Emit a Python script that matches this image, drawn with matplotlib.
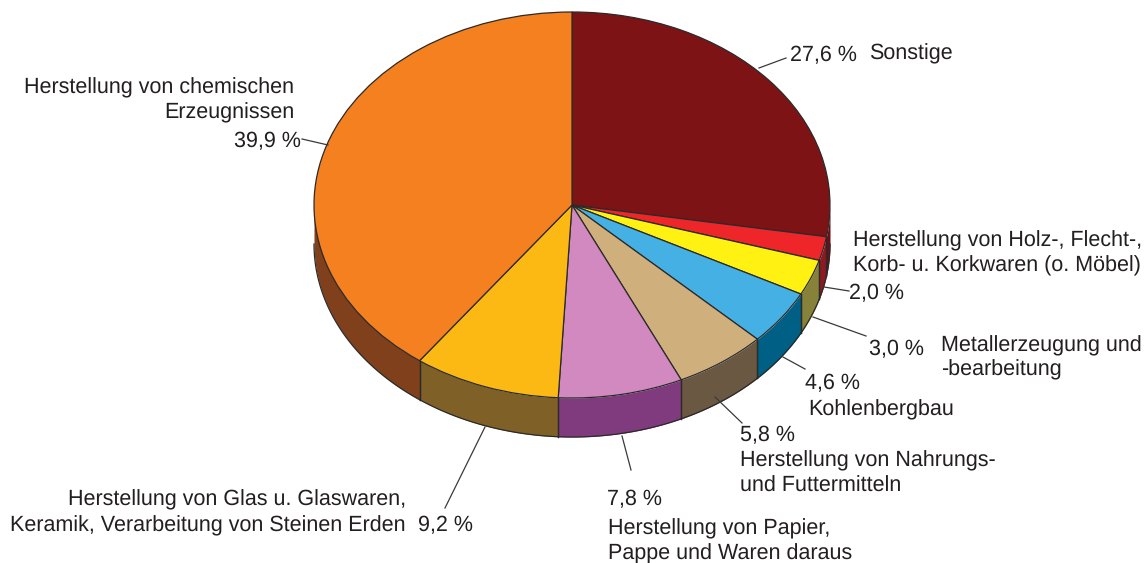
#!/usr/bin/python3
# -*- coding: utf-8 -*-

import matplotlib
matplotlib.use('Agg')
import matplotlib.pyplot as pl
import numpy as np

pl.rcParams['font.family'] = ['Liberation Sans', 'DejaVu Sans']
pl.rcParams['text.hinting'] = 'no_hinting'

categories = [
    ['Sonstige'],
    ['Herstellung von Holz-, Flecht-,', 'Korb- u. Korkwaren (o. Möbel)'],
    ['Metallerzeugung und', '-bearbeitung'],
    ['Kohlenbergbau'],
    ['Herstellung von Nahrungs-', 'und Futtermitteln'],
    ['Herstellung von Papier,', 'Pappe und Waren daraus'],
    ['Herstellung von Glas u. Glaswaren,', 'Keramik, Verarbeitung von Steinen Erden'],
    ['Herstellung von chemischen', 'Erzeugnissen'],
]
shares = [27.6, 2.0, 3.0, 4.6, 5.8, 7.8, 9.2, 39.9]

WIDTH, HEIGHT = 1148, 563
CX, CY, RX, RY = 572, 205, 258, 193
DEPTH = 39 / RY
EDGE = '#2b2a2a'
FONT_SIZE = 15.5

top_colors = ['#7d1315', '#ee2529', '#fff212', '#45b0e4', '#cfb07d', '#d189bf', '#fdb913', '#f58020']
side_colors = ['#6a1014', '#8c1a20', '#86823a', '#005f85', '#6b5842', '#7f3b7d', '#7f6027', '#80401b']

# per slice: value label (x, y, align), first name line (x, y, align), line distance
value_places = [
    (790, 56, 'left'), (849, 293, 'left'), (869, 349, 'left'), (805, 383, 'left'),
    (740, 435, 'left'), (607, 499, 'left'), (418, 526, 'left'), (301, 141, 'right'),
]
name_places = [
    (869, 54, 'left'), (853, 241, 'left'), (941, 346, 'left'), (808, 410, 'left'),
    (740, 461, 'left'), (608, 529, 'left'), (406, 500, 'right'), (294, 88, 'right'),
]
line_steps = [0, 25, 24, 0, 25, 25, 26, 25]

# leader lines, pixel coordinates
leaders = [
    ((759, 68), (786, 58)),
    ((824, 287), (849, 291)),
    ((813, 317), (866, 336)),
    ((783, 357), (805, 369)),
    ((715, 397), (742, 423)),
    ((622, 436), (631, 470)),
    ((485, 427), (445, 508)),
    ((302, 139), (328, 145)),
]

fig = pl.figure(figsize=(WIDTH / 100, HEIGHT / 100), dpi=100)
ax = fig.add_axes([(CX - RX) / WIDTH, 1 - (CY + RY) / HEIGHT, 2 * RX / WIDTH, 2 * RY / HEIGHT])

# side of the pie, only the part of each slice that faces the viewer
edges = 90 - 360 * np.cumsum([0] + shares) / np.sum(shares)
for start, stop, color in zip(edges[:-1], edges[1:], side_colors):
    low, high = max(stop, -180), min(start, 0)
    if low >= high:
        continue
    t = np.radians(np.linspace(low, high, 80))
    ax.fill_between(np.cos(t), np.sin(t) - DEPTH, np.sin(t), color=color, lw=0, clip_on=False, zorder=1)
    ax.plot(np.cos(t), np.sin(t) - DEPTH, color=EDGE, lw=0.9, clip_on=False, zorder=2)
    for a in (low, high):
        if a in (0, -180):
            continue
        r = np.radians(a)
        ax.plot([np.cos(r)] * 2, [np.sin(r) - DEPTH, np.sin(r)], color=EDGE, lw=0.9, clip_on=False, zorder=2)

wedges, _ = ax.pie(shares, colors=top_colors, startangle=90, counterclock=False, radius=1,
                   wedgeprops={'edgecolor': EDGE, 'linewidth': 0.9, 'clip_on': False})
for wedge in wedges:
    wedge.set_zorder(3)
ax.set_xlim(-1, 1)
ax.set_ylim(-1, 1)
ax.set_aspect('auto')
ax.axis('off')

overlay = fig.add_axes([0, 0, 1, 1])
overlay.set_xlim(0, WIDTH)
overlay.set_ylim(HEIGHT, 0)
overlay.axis('off')
overlay.patch.set_alpha(0)

for start, stop in leaders:
    overlay.plot([start[0], stop[0]], [start[1], stop[1]], color='#3a3a3a', lw=0.9)

for lines, share, value_place, name_place, step in zip(categories, shares, value_places, name_places, line_steps):
    x, y, align = value_place
    overlay.text(x, y, '{:.1f} %'.format(share).replace('.', ','), ha=align, va='center',
                 fontsize=FONT_SIZE, color='#231f20')
    x, y, align = name_place
    for i, line in enumerate(lines):
        overlay.text(x, y + i * step, line, ha=align, va='center', fontsize=FONT_SIZE, color='#231f20')

fig.savefig('out.png', dpi=100)
